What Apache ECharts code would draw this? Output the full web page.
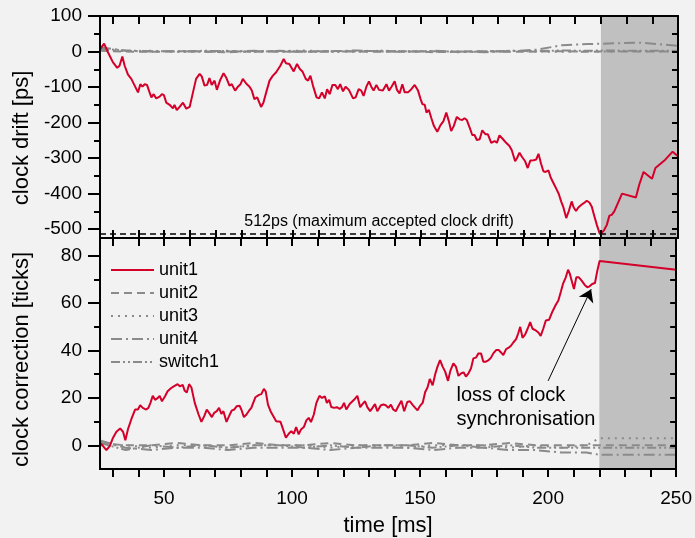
<!DOCTYPE html>
<html>
<head>
<meta charset="utf-8">
<style>
  html, body { margin: 0; padding: 0; background: #f2f2f2; }
  #chart-box { width: 695px; height: 538px; }
</style>
<script src="https://cdn.jsdelivr.net/npm/echarts@6/dist/echarts.min.js"></script>
</head>
<body>
<div id="chart-box"></div>
<script>
// ---- data ----
// upper panel: clock drift of unit1 [ps]
var driftTime = [25, 26.6, 28.1, 30, 31.7, 32.6, 33.7, 34.6, 35.9, 37.2, 38.5, 39.8, 40.7, 41.5, 42.4, 43.3, 44.3, 45, 45.9, 46.9,
    48.2, 49.1, 49.9, 50.8, 52.1, 53.4, 54, 54.9, 56, 57.3, 57.9, 58.6, 59.9, 61.2, 62.4, 63.8, 64.6, 65.7, 66.7, 67.6,
    68.5, 69.6, 70.5, 71.8, 73.1, 74.1, 75.4, 76.3, 77.6, 78.7, 79.7, 80.6, 81.9, 83.2, 84.1, 85.1, 86.2, 87.7, 88.6, 89.7,
    91, 92.3, 93.5, 94.2, 95.2, 96.5, 97.4, 98.7, 100.4, 101.7, 102.8, 103.8, 105.1, 106, 106.9, 107.9, 109.3, 110.3, 111.4, 112.5,
    113.4, 114.4, 115.5, 116.6, 117.6, 118.5, 119.6, 120.6, 121.9, 123.5, 124.5, 125.7, 126.7, 127.6, 128.7, 129.7, 130.6, 131.5, 132.6, 133.6,
    135.1, 136.5, 137.5, 138.5, 139.7, 140.6, 141.6, 142.7, 143.6, 144.9, 146.2, 147.5, 148.8, 149.8, 150.5, 151.4, 152.1, 153, 154, 155,
    156.3, 157.5, 158.7, 159.8, 160.8, 161.7, 162.7, 163.9, 165, 166, 166.9, 167.8, 168.9, 169.9, 170.8, 171.7, 172.8, 173.8, 175.1, 176,
    177.3, 178.6, 179.5, 180.5, 181.9, 183.1, 184.4, 185.3, 186.6, 187.4, 188.3, 189.3, 190.5, 191.5, 192.5, 193.8, 194.8, 195.7, 196.7, 197.6,
    198.4, 199.6, 200.4, 201.5, 202.6, 203.6, 204.5, 205.4, 206.5, 207.5, 208.6, 209.4, 210.3, 211.2, 212.3, 213.3, 214.5, 215.5, 216.4, 217.5,
    218.4, 219.6, 220.4, 221.3, 222.3, 223.3, 224.2, 225.2, 226.9, 228.2, 233.6, 234.9, 236.6, 239.9, 241.2, 244.7, 247.9, 250];
var driftUnit1 = [6, 22, -2, -30, -46, -40, -14, -40, -65, -77, -96, -115, -92, -99, -92, -94, -115, -129, -120, -132,
    -127, -120, -123, -144, -150, -160, -150, -165, -156, -144, -141, -161, -156, -115, -77, -63, -70, -96, -94, -75,
    -94, -82, -108, -80, -61, -73, -96, -92, -110, -99, -92, -77, -90, -99, -110, -134, -129, -156, -144, -115,
    -82, -68, -59, -61, -40, -21, -33, -35, -56, -35, -49, -56, -77, -82, -68, -96, -129, -132, -115, -132,
    -106, -120, -94, -94, -106, -92, -112, -99, -108, -132, -129, -106, -110, -125, -99, -84, -99, -110, -94, -108,
    -110, -92, -110, -99, -84, -108, -118, -92, -115, -115, -106, -94, -110, -134, -148, -150, -172, -164, -188, -210,
    -226, -208, -196, -172, -196, -224, -210, -184, -191, -193, -188, -193, -214, -235, -235, -249, -247, -222, -233, -233,
    -257, -252, -257, -236, -247, -257, -266, -278, -309, -299, -285, -297, -309, -328, -307, -306, -304, -288, -316, -337,
    -339, -335, -354, -370, -386, -401, -422, -439, -469, -449, -422, -439, -449, -439, -432, -427, -420, -425, -436, -465,
    -488, -514, -510, -502, -488, -462, -460, -450, -422, -400, -411, -375, -339, -358, -328, -307, -282, -295];

// lower panel: clock correction of unit1 [ticks]
var corrTime = [25, 26.2, 27.5, 28.8, 30.1, 31.4, 32.9, 34, 34.9, 35.9, 37.2, 38.7, 39.8, 40.7, 41.7, 43, 43.9, 44.7, 45.6, 46.5,
    47.6, 48.3, 49.2, 50.4, 51.4, 52.7, 53.8, 54.5, 55.3, 56.2, 57.3, 58.1, 58.9, 59.8, 60.7, 62, 63.5, 64.6, 65.7, 66.7,
    67.6, 68.7, 69.6, 70.6, 71.5, 72.4, 73.2, 74.4, 75.4, 76.4, 77.4, 78.4, 79.5, 80.2, 81.2, 82.2, 83.2, 84.1, 84.8, 85.7,
    87.1, 88, 89, 89.7, 90.6, 91.6, 92.7, 93.8, 95.5, 96.5, 97.6, 98.7, 99.7, 100.7, 101.6, 102.6, 103.5, 104.6, 105.6, 106.5,
    107.4, 108.5, 109.5, 110.7, 111.7, 112.8, 113.6, 114.5, 115.3, 116.5, 117.5, 118.6, 119.5, 120.3, 121.2, 122.5, 124.2, 125.5, 126.6, 127.5,
    128.5, 129.4, 130.5, 131.4, 132.4, 133.3, 134.7, 135.7, 136.6, 137.6, 138.6, 139.5, 140.5, 141.5, 142.7, 143.8, 145, 146, 147, 148.1,
    149, 149.9, 151, 152, 152.9, 153.8, 154.9, 155.9, 156.8, 157.8, 158.8, 159.8, 160.9, 161.8, 163, 164, 165, 166.1, 167, 167.9,
    168.9, 169.9, 170.8, 171.8, 172.8, 173.8, 174.7, 175.7, 176.8, 177.7, 178.6, 179.7, 180.7, 181.6, 182.5, 183.6, 184.6, 185.5, 186.4, 187.5,
    188.3, 189.1, 190, 191, 192, 193, 193.9, 195.2, 196.2, 197.1, 198.1, 199.1, 200.4, 201.7, 203, 204, 205, 205.8, 206.9, 207.8,
    208.5, 209.2, 210.1, 211, 212, 213.1, 214.3, 215.3, 216.2, 217.2, 218.3, 219.2, 220.1, 250];
var corrUnit1 = [1.1, -0.3, -2, -0.3, 3.2, 5.7, 7.1, 5.7, 2.1, 6.7, 10.9, 15.1, 15.1, 16.9, 15.8, 15.1, 15.8, 17.9, 20.9, 19.2,
    20, 20.9, 18.6, 20.7, 22.8, 24.1, 24.9, 24.4, 25.8, 24.9, 25.5, 23, 22.3, 25.8, 24.4, 17.9, 13, 9.9, 12.3, 15.1,
    13.7, 11.9, 13.7, 14.4, 15.8, 13.3, 14.4, 9.9, 12.3, 14.6, 15.1, 16.5, 16.7, 15.1, 11.9, 13, 14.6, 15.8, 15.5, 20.3,
    21.3, 21.6, 23.8, 22.8, 17.2, 14.4, 12.3, 10.2, 9.9, 6.7, 3.2, 4.9, 6, 4.9, 7.7, 4.6, 6.7, 7.7, 10.5, 11.6,
    9.8, 13, 17.9, 20.9, 20, 20.7, 17.9, 19.2, 16.2, 15.8, 16.1, 15.4, 16.1, 17.9, 15.1, 17.4, 19.2, 20.9, 16.1, 17.4,
    18.6, 16.1, 14.4, 15.8, 17.4, 14.4, 16.9, 17.2, 16.9, 15.8, 17.2, 15.1, 14.4, 16.5, 18.8, 14.4, 18.3, 18.6, 17.2, 15.8,
    14.8, 16.5, 17.9, 22.5, 24.4, 28, 25.3, 30, 33.2, 36, 33.2, 31.1, 27.2, 31.4, 34.6, 33.2, 29.3, 30.4, 30.8, 29,
    30.4, 32.5, 36.7, 37, 38.8, 38.8, 35.3, 35.3, 36, 37, 38.8, 40.2, 40.2, 39.2, 38.1, 40.6, 41.2, 42, 43.4, 44.8,
    47.2, 50, 45.4, 46.7, 49.2, 52, 49.2, 48.5, 47.6, 46.2, 49.2, 52.7, 53, 56.5, 59.3, 61.1, 64.9, 68.1, 70.9, 74.1,
    72.3, 69.5, 66, 70.9, 70.9, 69.5, 67.7, 66.7, 67.1, 68.1, 68.5, 73.6, 77.8, 74.1];

// the other nodes stay close to zero
var grayTime = [25, 35, 45, 55, 65, 75, 85, 95, 105, 115, 125, 135, 145, 155, 165, 175, 185, 195, 205, 215, 220, 235, 250];
var driftUnit2 = [2, 0, -1, 1, 0, -2, 1, 0, -1, 2, 0, -1, 1, -2, 0, 1, -1, 0, 1, -1, 0, 0, 0];
var driftUnit3 = [5, 1, 2, -1, 1, 2, -1, 1, 3, 0, -1, 2, 1, 0, -2, 1, 2, 0, -1, 1, 0, 1, 0];
var driftUnit4 = [12, 2, 0, 1, -1, 0, 2, -1, 0, 1, 3, 0, -1, 2, 0, -2, 1, 5, 18, 21, 22, 25, 16];
var driftSwitch1 = [8, 3, 1, 0, 2, 1, -1, 2, 0, -1, 1, 2, 0, 1, -1, 0, 2, 1, 3, 2, 3, 2, 2];
var corrUnit2 = [1, 0, 0, 1, 0, 0, 1, 0, 0, 1, 0, 0, 0, 1, 0, 0, 1, 0, 0, 0, 0, 0, 0];
var corrUnit3 = [0, 0, -1, 0, 0, -1, 0, 0, 0, -1, 0, 0, -1, 0, 0, 0, -1, 0, -1, 0, 3, 3, 3];
var corrUnit4 = [2, -1, -2, -1, -1, -2, -1, -1, -1, -2, -1, -1, -1, -2, -1, -1, -2, -2, -3, -3, -4, -4, -4];
var corrSwitch1 = [1, -2, 0, -1, 0, -1, 0, 0, -1, 0, -1, 0, 0, -1, 0, -1, 0, -1, -1, -1, -1, -1, -1];

// axes / annotations
var xTickValues = [30, 40, 50, 60, 70, 80, 90, 100, 110, 120, 130, 140, 150, 160, 170, 180, 190, 200, 210, 220, 230, 240, 250];
var xLabelValues = [50, 100, 150, 200, 250];
var driftMajor = [-500, -400, -300, -200, -100, 0, 100];
var driftMinor = [-450, -350, -250, -150, -50, 50];
var corrMajor = [0, 20, 40, 60, 80];
var corrMinor = [10, 30, 50, 70];
var corrAll = [0, 10, 20, 30, 40, 50, 60, 70, 80];
var maxDrift = -512;
var lossStart = 220;
var arrowFrom = [200, 27.2];
var arrowTo = [216.8, 65.9];
var lossTextAt = [164.2, 15.9];

drawClockChart();

function zip(xs, ys) {
    return xs.map(function (x, i) { return [x, ys[i]]; });
}

function drawClockChart() {
    var chartDom = document.getElementById('chart-box');
    var myChart = echarts.init(chartDom, null, { renderer: 'canvas' });
    var option;

    var font = 'Liberation Sans, Arial, sans-serif';
    var red = '#d4002a';
    var gray = '#8a8a8a';
    var dashes = {
        unit2: [8, 5],
        unit3: [2, 5],
        unit4: [11, 4, 2, 4],
        switch1: [9, 3, 2, 3, 2, 3]
    };
    var axisLine = { show: true, onZero: false, lineStyle: { color: '#000', width: 2 } };

    function xAxis(grid, pos, inside, labels) {
        return {
            type: 'value', gridIndex: grid, position: pos, min: 25, max: 250, z: 10,
            axisLine: axisLine,
            axisTick: { show: true, inside: inside, length: 8, customValues: xTickValues, lineStyle: { color: '#000', width: 2 } },
            axisLabel: labels ? { show: true, customValues: xLabelValues, fontSize: 19, color: '#000', margin: 20, fontFamily: font } : { show: false },
            splitLine: { show: false }
        };
    }
    function yAxis(grid, pos, min, max, ticks, len, inside, labels, name, shift) {
        var ax = {
            type: 'value', gridIndex: grid, position: pos, min: min, max: max, z: 10,
            axisLine: axisLine,
            axisTick: { show: true, inside: inside, length: len, customValues: ticks, lineStyle: { color: '#000', width: 2 } },
            axisLabel: labels ? { show: true, customValues: ticks, fontSize: 19, color: '#000', margin: 18, fontFamily: font } : { show: false },
            splitLine: { show: false }
        };
        if (name) {
            ax.name = name;
            ax.nameLocation = 'middle';
            ax.nameGap = 67;
            // padding on the right pushes the rotated title a bit down
            ax.nameTextStyle = { fontSize: 22, color: '#000', fontFamily: font, padding: [0, shift, 0, 0] };
        }
        return ax;
    }
    function grayLine(name, x, y, data) {
        return {
            name: name, type: 'line', xAxisIndex: x, yAxisIndex: y,
            data: data, symbol: 'none', z: 2, silent: true,
            lineStyle: { color: gray, width: 2, type: dashes[name] },
            itemStyle: { color: gray }
        };
    }
    var shade = {
        silent: true,
        itemStyle: { color: '#c0c0c0' },
        data: [[{ xAxis: lossStart }, { xAxis: 250 }]]
    };

    option = {
        backgroundColor: '#f2f2f2',
        animation: false,
        textStyle: { fontFamily: font },
        grid: [
            { left: 100, right: 17, top: 16, height: 222 },
            { left: 100, right: 17, top: 238, height: 233 }
        ],
        legend: {
            orient: 'vertical',
            left: 105,
            top: 256,
            itemWidth: 43,
            itemHeight: 14,
            itemGap: 5,
            itemStyle: { opacity: 0 },
            data: ['unit1', 'unit2', 'unit3', 'unit4', 'switch1'],
            textStyle: { fontSize: 18, color: '#000', fontFamily: font }
        },
        xAxis: [
            xAxis(0, 'bottom', true, false),
            xAxis(0, 'top', true, false),
            xAxis(1, 'top', true, false),
            Object.assign(xAxis(1, 'bottom', false, true), {
                name: 'time [ms]', nameLocation: 'middle', nameGap: 46,
                nameTextStyle: { fontSize: 22, color: '#000', fontFamily: font }
            })
        ],
        yAxis: [
            yAxis(0, 'left', -525, 100, driftMajor, 12, false, true, 'clock drift [ps]', 22),
            yAxis(0, 'left', -525, 100, driftMinor, 6, false, false),
            yAxis(0, 'right', -525, 100, driftMajor.concat(driftMinor), 6, true, false),
            yAxis(1, 'left', -10, 87.5, corrMajor, 12, false, true, 'clock correction [ticks]', 12),
            yAxis(1, 'left', -10, 87.5, corrMinor, 6, false, false),
            yAxis(1, 'right', -10, 87.5, corrAll, 6, true, false)
        ],
        series: [
            Object.assign(grayLine('unit2', 0, 0, zip(grayTime, driftUnit2)), { markArea: shade }),
            grayLine('unit3', 0, 0, zip(grayTime, driftUnit3)),
            grayLine('unit4', 0, 0, zip(grayTime, driftUnit4)),
            grayLine('switch1', 0, 0, zip(grayTime, driftSwitch1)),
            {
                name: 'unit1', type: 'line', xAxisIndex: 0, yAxisIndex: 0,
                data: zip(driftTime, driftUnit1), symbol: 'none', z: 3,
                lineStyle: { color: red, width: 2 }, itemStyle: { color: red },
                markLine: {
                    silent: true, symbol: 'none',
                    lineStyle: { color: '#000', width: 1.5, type: [6, 4] },
                    label: {
                        show: true, position: 'insideMiddleTop', distance: 4, offset: [-10, 0],
                        formatter: '512ps (maximum accepted clock drift)',
                        fontSize: 16, color: '#000', fontFamily: font
                    },
                    data: [{ yAxis: maxDrift }]
                }
            },
            Object.assign(grayLine('unit2', 3, 3, zip(grayTime, corrUnit2)), { markArea: shade }),
            grayLine('unit3', 3, 3, zip(grayTime, corrUnit3)),
            grayLine('unit4', 3, 3, zip(grayTime, corrUnit4)),
            grayLine('switch1', 3, 3, zip(grayTime, corrSwitch1)),
            {
                name: 'unit1', type: 'line', xAxisIndex: 3, yAxisIndex: 3,
                data: zip(corrTime, corrUnit1), symbol: 'none', z: 3,
                lineStyle: { color: red, width: 2 }, itemStyle: { color: red },
                markLine: {
                    silent: true,
                    symbol: ['none', 'arrow'],
                    symbolSize: 12,
                    itemStyle: { color: '#000' },
                    lineStyle: { color: '#000', width: 1, type: 'solid' },
                    label: { show: false },
                    data: [[{ coord: arrowFrom }, { coord: arrowTo }]]
                },
                markPoint: {
                    silent: true,
                    symbol: 'circle', symbolSize: 0,
                    label: {
                        show: true, position: 'right', distance: 0, align: 'left',
                        formatter: 'loss of clock\nsynchronisation',
                        fontSize: 20, lineHeight: 24, color: '#000', fontFamily: font
                    },
                    data: [{ coord: lossTextAt }]
                }
            }
        ]
    };

    option && myChart.setOption(option);
}
</script>
</body>
</html>
